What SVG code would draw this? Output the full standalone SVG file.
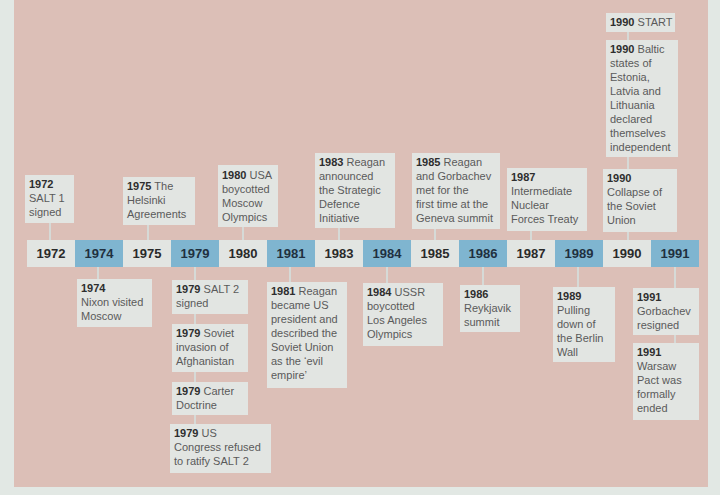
<svg xmlns="http://www.w3.org/2000/svg" width="720" height="495" viewBox="0 0 720 495">
<style>
.bg{fill:#dcbfb7}
.box{fill:#e2e5e2}
.yw{fill:#e2e5e2}
.yb{fill:#7fb5d0}
.yl{font-family:"Liberation Sans",Arial,sans-serif;font-weight:bold;font-size:13px;fill:#2a2a2a;text-anchor:middle}
.yb + .yl{fill:#1f3040}
.t{font-family:"Liberation Sans",Arial,sans-serif;font-size:11px;fill:#5a5a5a}
.t tspan.b{font-weight:bold;fill:#2e2e2e}
.c{stroke:#d6dad7;stroke-width:2;fill:none}
</style>
<rect x="0" y="0" width="720" height="495" fill="#e2e8e4"/>
<rect class="bg" x="14" y="0" width="694" height="487"/>

<g id="connectors">
<line class="c" x1="50" y1="223" x2="50" y2="240"/>
<line class="c" x1="148" y1="225" x2="148" y2="240"/>
<line class="c" x1="243" y1="227" x2="243" y2="240"/>
<line class="c" x1="339" y1="228" x2="339" y2="240"/>
<line class="c" x1="435" y1="229" x2="435" y2="240"/>
<line class="c" x1="531" y1="231" x2="531" y2="240"/>
<line class="c" x1="628" y1="232" x2="628" y2="240"/>
<line class="c" x1="628" y1="157" x2="628" y2="169"/>
<line class="c" x1="628" y1="32" x2="628" y2="40"/>
<line class="c" x1="98" y1="267" x2="98" y2="279"/>
<line class="c" x1="195" y1="267" x2="195" y2="280"/>
<line class="c" x1="195" y1="314" x2="195" y2="324"/>
<line class="c" x1="195" y1="372" x2="195" y2="382"/>
<line class="c" x1="195" y1="415" x2="195" y2="424"/>
<line class="c" x1="290" y1="267" x2="290" y2="282"/>
<line class="c" x1="387" y1="267" x2="387" y2="283"/>
<line class="c" x1="483" y1="267" x2="483" y2="285"/>
<line class="c" x1="578" y1="267" x2="578" y2="287"/>
<line class="c" x1="675" y1="267" x2="675" y2="288"/>
<line class="c" x1="675" y1="335" x2="675" y2="343"/>
</g>

<g id="timeline">
<g id="y1972"><rect class="yw" x="27" y="240" width="48" height="27"/><text class="yl" x="51" y="258">1972</text></g>
<g id="y1974"><rect class="yb" x="75" y="240" width="48" height="27"/><text class="yl" x="99" y="258">1974</text></g>
<g id="y1975"><rect class="yw" x="123" y="240" width="48" height="27"/><text class="yl" x="147" y="258">1975</text></g>
<g id="y1979"><rect class="yb" x="171" y="240" width="48" height="27"/><text class="yl" x="195" y="258">1979</text></g>
<g id="y1980"><rect class="yw" x="219" y="240" width="48" height="27"/><text class="yl" x="243" y="258">1980</text></g>
<g id="y1981"><rect class="yb" x="267" y="240" width="48" height="27"/><text class="yl" x="291" y="258">1981</text></g>
<g id="y1983"><rect class="yw" x="315" y="240" width="48" height="27"/><text class="yl" x="339" y="258">1983</text></g>
<g id="y1984"><rect class="yb" x="363" y="240" width="48" height="27"/><text class="yl" x="387" y="258">1984</text></g>
<g id="y1985"><rect class="yw" x="411" y="240" width="48" height="27"/><text class="yl" x="435" y="258">1985</text></g>
<g id="y1986"><rect class="yb" x="459" y="240" width="48" height="27"/><text class="yl" x="483" y="258">1986</text></g>
<g id="y1987"><rect class="yw" x="507" y="240" width="48" height="27"/><text class="yl" x="531" y="258">1987</text></g>
<g id="y1989"><rect class="yb" x="555" y="240" width="48" height="27"/><text class="yl" x="579" y="258">1989</text></g>
<g id="y1990"><rect class="yw" x="603" y="240" width="48" height="27"/><text class="yl" x="627" y="258">1990</text></g>
<g id="y1991"><rect class="yb" x="651" y="240" width="48" height="27"/><text class="yl" x="675" y="258">1991</text></g>
</g>

<g id="e1972"><rect class="box" x="25" y="175" width="49" height="48"/>
<text class="t" x="29" y="188"><tspan class="b">1972</tspan><tspan x="29" dy="14">SALT 1</tspan><tspan x="29" dy="14">signed</tspan></text></g>

<g id="e1975"><rect class="box" x="123" y="177" width="72" height="48"/>
<text class="t" x="127" y="190"><tspan class="b">1975</tspan> The<tspan x="127" dy="14">Helsinki</tspan><tspan x="127" dy="14">Agreements</tspan></text></g>

<g id="e1980"><rect class="box" x="218" y="165" width="60" height="62"/>
<text class="t" x="222" y="179"><tspan class="b">1980</tspan> USA<tspan x="222" dy="14">boycotted</tspan><tspan x="222" dy="14">Moscow</tspan><tspan x="222" dy="14">Olympics</tspan></text></g>

<g id="e1983"><rect class="box" x="315" y="153" width="80" height="75"/>
<text class="t" x="319" y="166"><tspan class="b">1983</tspan> Reagan<tspan x="319" dy="14">announced</tspan><tspan x="319" dy="14">the Strategic</tspan><tspan x="319" dy="14">Defence</tspan><tspan x="319" dy="14">Initiative</tspan></text></g>

<g id="e1985"><rect class="box" x="412" y="153" width="88" height="76"/>
<text class="t" x="416" y="166"><tspan class="b">1985</tspan> Reagan<tspan x="416" dy="14">and Gorbachev</tspan><tspan x="416" dy="14">met for the</tspan><tspan x="416" dy="14">first time at the</tspan><tspan x="416" dy="14">Geneva summit</tspan></text></g>

<g id="e1987"><rect class="box" x="507" y="168" width="80" height="63"/>
<text class="t" x="511" y="181"><tspan class="b">1987</tspan><tspan x="511" dy="14">Intermediate</tspan><tspan x="511" dy="14">Nuclear</tspan><tspan x="511" dy="14">Forces Treaty</tspan></text></g>

<g id="e1990c"><rect class="box" x="603" y="169" width="74" height="63"/>
<text class="t" x="607" y="182"><tspan class="b">1990</tspan><tspan x="607" dy="14">Collapse of</tspan><tspan x="607" dy="14">the Soviet</tspan><tspan x="607" dy="14">Union</tspan></text></g>

<g id="e1990b"><rect class="box" x="606" y="40" width="72" height="117"/>
<text class="t" x="610" y="53"><tspan class="b">1990</tspan> Baltic<tspan x="610" dy="14">states of</tspan><tspan x="610" dy="14">Estonia,</tspan><tspan x="610" dy="14">Latvia and</tspan><tspan x="610" dy="14">Lithuania</tspan><tspan x="610" dy="14">declared</tspan><tspan x="610" dy="14">themselves</tspan><tspan x="610" dy="14">independent</tspan></text></g>

<g id="e1990s"><rect class="box" x="606" y="13" width="69" height="19"/>
<text class="t" x="610" y="26"><tspan class="b">1990</tspan> START</text></g>

<g id="e1974"><rect class="box" x="77" y="279" width="75" height="48"/>
<text class="t" x="81" y="292"><tspan class="b">1974</tspan><tspan x="81" dy="14">Nixon visited</tspan><tspan x="81" dy="14">Moscow</tspan></text></g>

<g id="e1979a"><rect class="box" x="172" y="280" width="76" height="34"/>
<text class="t" x="176" y="293"><tspan class="b">1979</tspan> SALT 2<tspan x="176" dy="14">signed</tspan></text></g>

<g id="e1979b"><rect class="box" x="172" y="324" width="76" height="48"/>
<text class="t" x="176" y="337"><tspan class="b">1979</tspan> Soviet<tspan x="176" dy="14">invasion of</tspan><tspan x="176" dy="14">Afghanistan</tspan></text></g>

<g id="e1979c"><rect class="box" x="172" y="382" width="76" height="33"/>
<text class="t" x="176" y="395"><tspan class="b">1979</tspan> Carter<tspan x="176" dy="14">Doctrine</tspan></text></g>

<g id="e1979d"><rect class="box" x="170" y="424" width="101" height="49"/>
<text class="t" x="174" y="437"><tspan class="b">1979</tspan> US<tspan x="174" dy="14">Congress refused</tspan><tspan x="174" dy="14">to ratify SALT 2</tspan></text></g>

<g id="e1981"><rect class="box" x="267" y="282" width="80" height="106"/>
<text class="t" x="271" y="295"><tspan class="b">1981</tspan> Reagan<tspan x="271" dy="14">became US</tspan><tspan x="271" dy="14">president and</tspan><tspan x="271" dy="14">described the</tspan><tspan x="271" dy="14">Soviet Union</tspan><tspan x="271" dy="14">as the ‘evil</tspan><tspan x="271" dy="14">empire’</tspan></text></g>

<g id="e1984"><rect class="box" x="363" y="283" width="80" height="63"/>
<text class="t" x="367" y="296"><tspan class="b">1984</tspan> USSR<tspan x="367" dy="14">boycotted</tspan><tspan x="367" dy="14">Los Angeles</tspan><tspan x="367" dy="14">Olympics</tspan></text></g>

<g id="e1986"><rect class="box" x="460" y="285" width="60" height="47"/>
<text class="t" x="464" y="298"><tspan class="b">1986</tspan><tspan x="464" dy="14">Reykjavik</tspan><tspan x="464" dy="14">summit</tspan></text></g>

<g id="e1989"><rect class="box" x="553" y="287" width="62" height="75"/>
<text class="t" x="557" y="300"><tspan class="b">1989</tspan><tspan x="557" dy="14">Pulling</tspan><tspan x="557" dy="14">down of</tspan><tspan x="557" dy="14">the Berlin</tspan><tspan x="557" dy="14">Wall</tspan></text></g>

<g id="e1991a"><rect class="box" x="633" y="288" width="66" height="47"/>
<text class="t" x="637" y="301"><tspan class="b">1991</tspan><tspan x="637" dy="14">Gorbachev</tspan><tspan x="637" dy="14">resigned</tspan></text></g>

<g id="e1991b"><rect class="box" x="633" y="343" width="66" height="77"/>
<text class="t" x="637" y="356"><tspan class="b">1991</tspan><tspan x="637" dy="14">Warsaw</tspan><tspan x="637" dy="14">Pact was</tspan><tspan x="637" dy="14">formally</tspan><tspan x="637" dy="14">ended</tspan></text></g>
</svg>
